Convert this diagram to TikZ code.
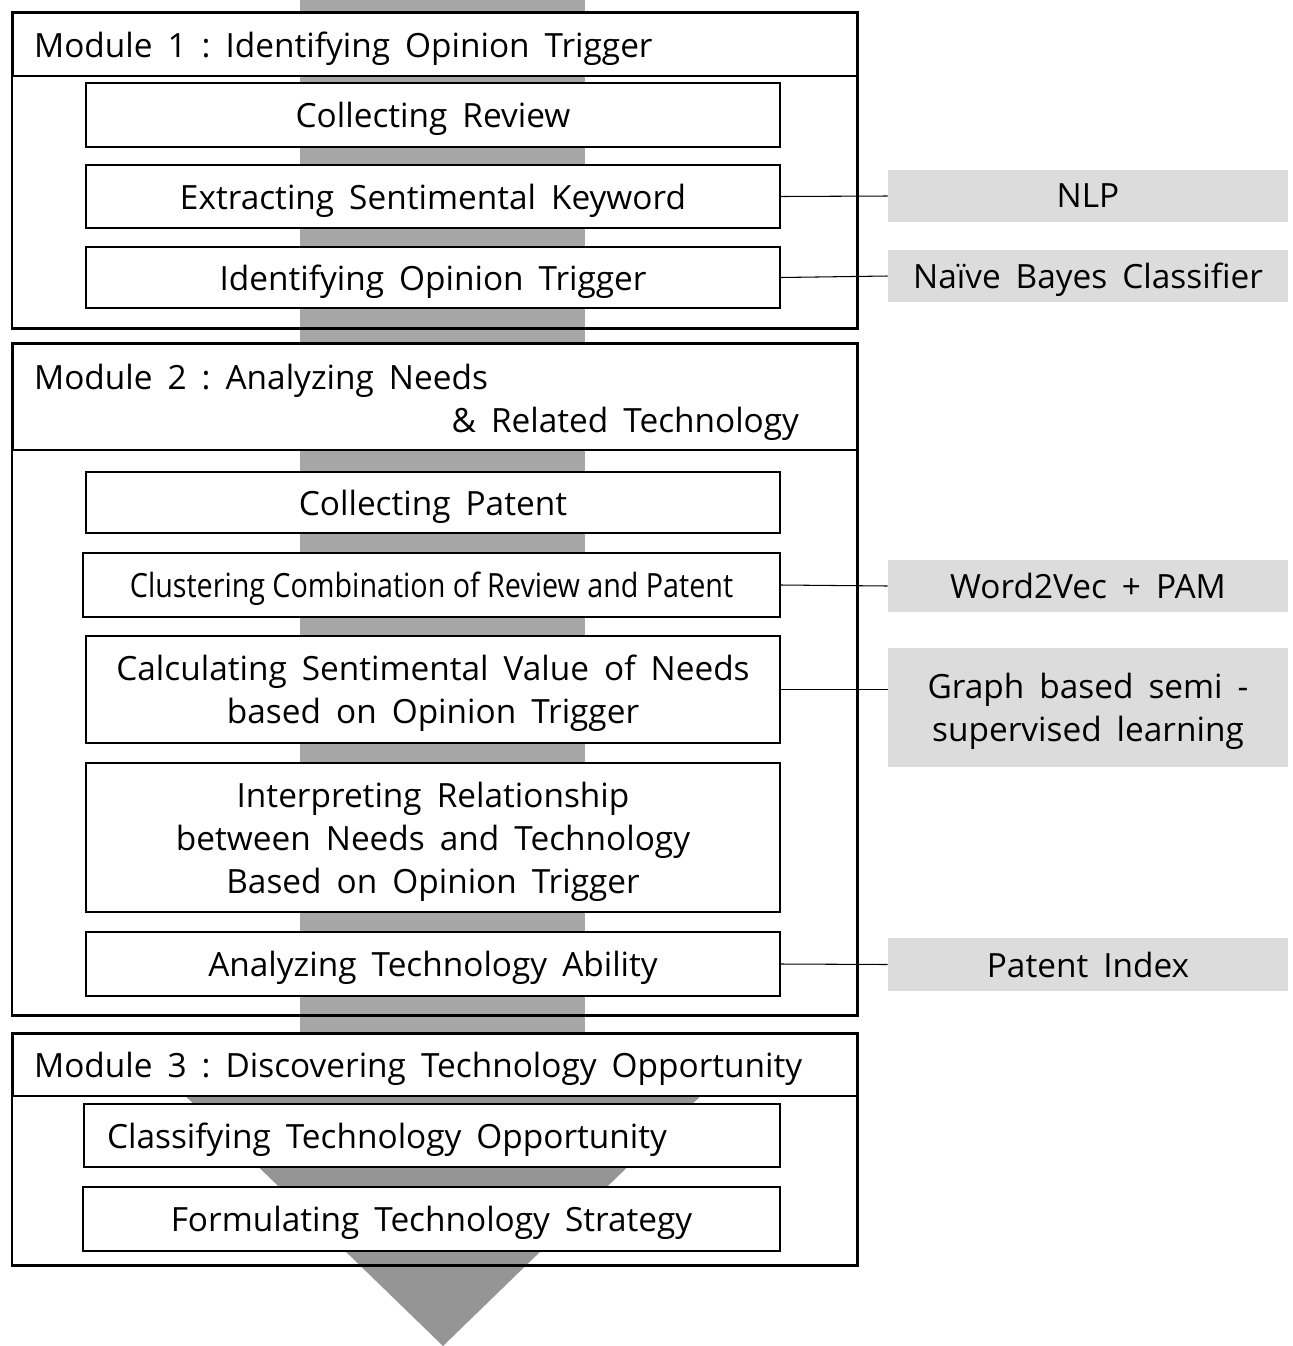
\documentclass[tikz,border=0pt]{standalone}
\usepackage{fontspec}
\setmainfont{Open Sans}
\newfontfamily\narrowfont[FakeStretch=0.86]{Open Sans}
\usetikzlibrary{positioning}
\definecolor{bandgray}{HTML}{A6A6A6}
\definecolor{tipgray}{HTML}{959595}
\definecolor{toolgray}{HTML}{DCDCDC}
\newcommand{\flowfont}{\fontsize{19pt}{24.4pt}\selectfont}
\newcommand{\widewords}{\frenchspacing\spaceskip=0.45em plus 0.1em\relax}
\newcommand{\clusterwords}{\narrowfont\frenchspacing\spaceskip=0.22em\relax}
\tikzset{
  every node/.style={font=\flowfont, text depth=0pt, execute at begin node=\widewords},
  stepbox/.style={draw=black, line width=1.1pt, fill=white, minimum width=13.88cm, align=center, inner sep=0pt},
  toolbox/.style={fill=toolgray, minimum width=8cm, align=center, inner sep=0pt},
  modframe/.style={draw=black, line width=1.7pt},
  modtitle/.style={draw=black, line width=1.3pt, fill=white, minimum width=16.9cm, text width=16.06cm, inner xsep=0.42cm, align=left, anchor=north west},
  link/.style={draw=black, line width=0.6pt}
}
\begin{document}
\begin{tikzpicture}[x=0.02cm,y=-0.02cm]
\useasboundingbox (0,0) rectangle (1293,1346);
% gray flow band with arrow head
\fill[bandgray] (300,0) rectangle (585,1050);
\fill[tipgray] (138,1050) -- (748,1050) -- (443,1346) -- cycle;

% module 1
\node[modtitle, minimum height=1.26cm] (m1title) at (12,12) {Module 1 : Identifying Opinion Trigger};
\draw[modframe] (12,12) rectangle (857,328);
\node[stepbox, minimum height=1.28cm] (review) at (433,115) {Collecting Review};
\node[stepbox, minimum height=1.26cm] (keyword) at (433,196.5) {Extracting Sentimental Keyword};
\node[stepbox, minimum height=1.22cm] (trigger) at (433,277.5) {Identifying Opinion Trigger};

% module 2
\node[modtitle, minimum height=2.12cm, text depth={}] (m2title) at (12,343) {\rule{0pt}{20pt}Module 2 : Analyzing Needs\\ \hspace*{\fill}\& Related Technology\hspace*{0.76cm}\mbox{}};
\draw[modframe] (12,343) rectangle (857,1015);
\node[stepbox, minimum height=1.22cm] (patent) at (433,502.5) {Collecting Patent};
\node[stepbox, minimum width=13.94cm, minimum height=1.28cm, execute at begin node=\clusterwords] (cluster) at (431.5,585) {Clustering Combination of Review and Patent};
\node[stepbox, minimum height=2.14cm] (calc) at (433,689.5) {Calculating Sentimental Value of Needs\\based on Opinion Trigger};
\node[stepbox, minimum height=2.98cm] (interp) at (433,837.5) {Interpreting Relationship\\between Needs and Technology\\Based on Opinion Trigger};
\node[stepbox, minimum height=1.28cm] (ability) at (433,964) {Analyzing Technology Ability};

% module 3
\node[modtitle, minimum height=1.24cm] (m3title) at (12,1033) {Module 3 : Discovering Technology Opportunity};
\draw[modframe] (12,1033) rectangle (857,1265);
\node[stepbox, minimum width=13.92cm, minimum height=1.26cm, text width=13cm, inner xsep=0.46cm, align=left] (classify) at (432,1135.5) {Classifying Technology Opportunity};
\node[stepbox, minimum width=13.94cm, minimum height=1.28cm] (strategy) at (431.5,1219) {Formulating Technology Strategy};

% methods
\node[toolbox, minimum height=1.04cm] (nlp) at (1088,196) {NLP};
\node[toolbox, minimum height=1.04cm] (bayes) at (1088,276) {Naïve Bayes Classifier};
\node[toolbox, minimum height=1.04cm] (w2v) at (1088,586) {Word2Vec + PAM};
\node[toolbox, minimum height=2.38cm] (graph) at (1088,707.5) {Graph based semi -\\supervised learning};
\node[toolbox, minimum height=1.06cm] (pindex) at (1088,964.5) {Patent Index};

\draw[link] (keyword.east) -- (nlp.west);
\draw[link] (trigger.east) -- (bayes.west);
\draw[link] (cluster.east) -- (w2v.west);
\draw[link] (calc.east) -- (calc.east -| graph.west);
\draw[link] (ability.east) -- (pindex.west);
\end{tikzpicture}
\end{document}
